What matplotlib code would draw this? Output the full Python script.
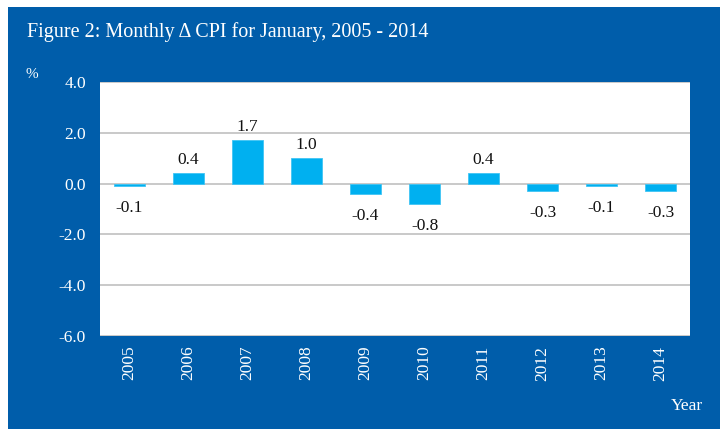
import numpy as np
import matplotlib.pyplot as plt
from matplotlib.patches import Rectangle

plt.rcParams['font.family'] = ['Liberation Serif', 'DejaVu Serif']

# Data
years = ['2005', '2006', '2007', '2008', '2009', '2010', '2011', '2012', '2013', '2014']
cpi_change = [-0.1, 0.4, 1.7, 1.0, -0.4, -0.8, 0.4, -0.3, -0.1, -0.3]
y_ticks = [4.0, 2.0, 0.0, -2.0, -4.0, -6.0]

navy = '#005DAA'
bar_col = '#00B0F0'

fig = plt.figure(figsize=(7.26, 4.30), dpi=100)
fig.patch.set_facecolor('white')
fig.patches.append(Rectangle((8 / 726, 1 - 429 / 430), 712 / 726, 422 / 430,
                             transform=fig.transFigure, facecolor=navy,
                             edgecolor='none', zorder=-5))

ax = fig.add_axes([100 / 726, 1 - 336 / 430, 590 / 726, 254 / 430])
ax.set_zorder(2)
ax.set_facecolor('white')

x = np.arange(len(years))
ax.bar(x, cpi_change, width=0.53, color=bar_col, edgecolor='#40C4F4',
       linewidth=0.6, zorder=3)

ax.set_xlim(-0.5, len(years) - 0.5)
ax.set_ylim(-6, 4)
ax.set_yticks(y_ticks)
ax.set_yticklabels([f'{v:.1f}' for v in y_ticks], color='white', fontsize=12.5)
ax.set_xticks(x)
ax.set_xticklabels(years, rotation=90, color='white', fontsize=12.5)
ax.tick_params(length=0, pad=10)
ax.tick_params(axis='x', pad=7)
ax.grid(axis='y', color='#C0C0C0', linewidth=1.2, zorder=1)
for s in ax.spines.values():
    s.set_visible(False)

for xi, v in zip(x, cpi_change):
    if v >= 0:
        ax.annotate(f'{v:.1f}', (xi, v), xytext=(0, 4), textcoords='offset points',
                    ha='center', va='bottom', fontsize=12.5, color='#111111')
    else:
        ax.annotate(f'{v:.1f}', (xi, v), xytext=(0, -10), textcoords='offset points',
                    ha='center', va='top', fontsize=12.5, color='#111111')

fig.text(27 / 726, 1 - 32 / 430, 'Figure 2: Monthly \u0394 CPI for January, 2005 - 2014',
         color='white', fontsize=14.5, va='center', ha='left')
fig.text(32 / 726, 1 - 75 / 430, '%', color='white', fontsize=11, va='center', ha='center')
fig.text(687 / 726, 1 - 406 / 430, 'Year', color='white', fontsize=12.5, va='center', ha='center')

fig.savefig('out.png', dpi=100)
